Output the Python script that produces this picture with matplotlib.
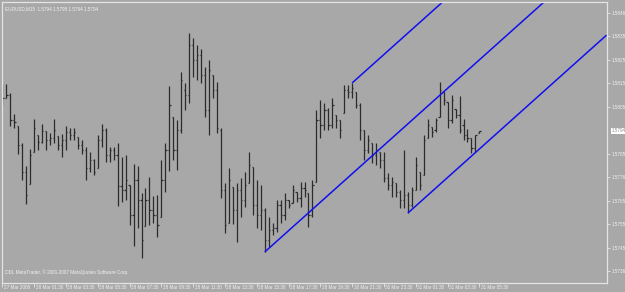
import matplotlib
matplotlib.use("Agg")
import matplotlib.pyplot as plt
import matplotlib.transforms as mtransforms
import numpy as np

# ---------------- data (EURUSD M15 bars) ----------------
opens = [1.58132, 1.58098, 1.58110, 1.58004, 1.57978, 1.57897, 1.57782, 1.57731, 1.57867, 1.57940,
         1.57910, 1.57957, 1.57919, 1.57927, 1.57936, 1.57897, 1.57919, 1.57953, 1.57940, 1.57931,
         1.57897, 1.57876, 1.57799, 1.57833, 1.57799, 1.57919, 1.57961, 1.57855, 1.57876, 1.57855,
         1.57722, 1.57705, 1.57727, 1.57599, 1.57748, 1.57663, 1.57552, 1.57663, 1.57620, 1.57599,
         1.57590, 1.57748, 1.57876, 1.58017, 1.57876, 1.57961, 1.58132, 1.58110, 1.58324, 1.58260,
         1.58281, 1.58196, 1.58046, 1.58196, 1.58132, 1.57961, 1.57705, 1.57565, 1.57718, 1.57620,
         1.57705, 1.57663, 1.57735, 1.57803, 1.57641, 1.57599, 1.57620, 1.57492, 1.57535, 1.57543,
         1.57641, 1.57599, 1.57663, 1.57650, 1.57697, 1.57671, 1.57714, 1.57693, 1.57599, 1.57739,
         1.58004, 1.57982, 1.58046, 1.57982, 1.58025, 1.58004, 1.58034, 1.58132, 1.58123, 1.58123,
         1.58068, 1.57961, 1.57876, 1.57906, 1.57855, 1.57867, 1.57833, 1.57757, 1.57727, 1.57735,
         1.57697, 1.57663, 1.57684, 1.57641, 1.57705, 1.57782, 1.57769, 1.57927, 1.57974, 1.57961,
         1.58017, 1.58123, 1.58081, 1.58004, 1.58051, 1.58025, 1.57982, 1.57940, 1.57927, 1.57884,
         1.57948]
highs = [1.58157, 1.58157, 1.58119, 1.58029, 1.57978, 1.57906, 1.57808, 1.57880, 1.58008, 1.57940,
         1.57987, 1.57957, 1.57948, 1.58008, 1.57936, 1.57944, 1.57978, 1.57970, 1.57970, 1.57931,
         1.57919, 1.57889, 1.57867, 1.57838, 1.57940, 1.57987, 1.57970, 1.57889, 1.57889, 1.57906,
         1.57846, 1.57855, 1.57727, 1.57816, 1.57808, 1.57693, 1.57714, 1.57761, 1.57680, 1.57684,
         1.57833, 1.57906, 1.58149, 1.58017, 1.58004, 1.58208, 1.58162, 1.58375, 1.58353, 1.58324,
         1.58307, 1.58230, 1.58260, 1.58196, 1.58166, 1.57970, 1.57735, 1.57799, 1.57718, 1.57735,
         1.57757, 1.57782, 1.57867, 1.57803, 1.57748, 1.57727, 1.57629, 1.57590, 1.57565, 1.57663,
         1.57663, 1.57693, 1.57663, 1.57727, 1.57697, 1.57739, 1.57739, 1.57693, 1.57748, 1.58046,
         1.58089, 1.58076, 1.58055, 1.58098, 1.58025, 1.58004, 1.58153, 1.58153, 1.58162, 1.58123,
         1.58076, 1.57961, 1.57940, 1.57906, 1.57906, 1.57867, 1.57867, 1.57778, 1.57761, 1.57735,
         1.57705, 1.57876, 1.57697, 1.57718, 1.57846, 1.57782, 1.57940, 1.58008, 1.57974, 1.58012,
         1.58166, 1.58123, 1.58081, 1.58110, 1.58051, 1.58106, 1.58008, 1.57965, 1.57927, 1.57940,
         1.57957]
lows = [1.58068, 1.58098, 1.57978, 1.57970, 1.57859, 1.57748, 1.57646, 1.57731, 1.57867, 1.57876,
        1.57906, 1.57876, 1.57897, 1.57906, 1.57876, 1.57846, 1.57876, 1.57919, 1.57919, 1.57880,
        1.57859, 1.57748, 1.57782, 1.57769, 1.57799, 1.57889, 1.57825, 1.57825, 1.57833, 1.57637,
        1.57654, 1.57663, 1.57556, 1.57467, 1.57543, 1.57415, 1.57552, 1.57556, 1.57565, 1.57505,
        1.57590, 1.57697, 1.57786, 1.57833, 1.57791, 1.57948, 1.58046, 1.58076, 1.58187, 1.58174,
        1.58162, 1.58017, 1.57940, 1.58098, 1.57948, 1.57671, 1.57522, 1.57565, 1.57560, 1.57484,
        1.57590, 1.57633, 1.57735, 1.57599, 1.57543, 1.57535, 1.57441, 1.57462, 1.57514, 1.57526,
        1.57565, 1.57577, 1.57629, 1.57650, 1.57654, 1.57633, 1.57676, 1.57548, 1.57590, 1.57739,
        1.57927, 1.57961, 1.57961, 1.57970, 1.57970, 1.57927, 1.58034, 1.58098, 1.58098, 1.58055,
        1.57919, 1.57833, 1.57863, 1.57820, 1.57812, 1.57799, 1.57739, 1.57705, 1.57676, 1.57676,
        1.57629, 1.57629, 1.57607, 1.57633, 1.57705, 1.57705, 1.57769, 1.57927, 1.57931, 1.57953,
        1.58017, 1.58068, 1.57970, 1.57991, 1.58012, 1.57948, 1.57919, 1.57910, 1.57863, 1.57867,
        1.57948]
closes = [1.58098, 1.58110, 1.58004, 1.57995, 1.57897, 1.57782, 1.57684, 1.57855, 1.57970, 1.57910,
          1.57957, 1.57919, 1.57927, 1.57961, 1.57897, 1.57919, 1.57953, 1.57940, 1.57953, 1.57897,
          1.57876, 1.57799, 1.57833, 1.57782, 1.57919, 1.57961, 1.57855, 1.57876, 1.57855, 1.57722,
          1.57705, 1.57748, 1.57599, 1.57748, 1.57663, 1.57492, 1.57663, 1.57620, 1.57599, 1.57556,
          1.57748, 1.57876, 1.58068, 1.57876, 1.57961, 1.58174, 1.58110, 1.58324, 1.58260, 1.58281,
          1.58196, 1.58046, 1.58217, 1.58132, 1.57970, 1.57705, 1.57556, 1.57748, 1.57620, 1.57705,
          1.57663, 1.57727, 1.57812, 1.57641, 1.57599, 1.57620, 1.57492, 1.57535, 1.57543, 1.57641,
          1.57599, 1.57663, 1.57641, 1.57705, 1.57671, 1.57714, 1.57705, 1.57599, 1.57727, 1.58004,
          1.57982, 1.58046, 1.57982, 1.58068, 1.58004, 1.57961, 1.58132, 1.58123, 1.58140, 1.58068,
          1.57961, 1.57876, 1.57919, 1.57855, 1.57876, 1.57833, 1.57757, 1.57727, 1.57739, 1.57697,
          1.57663, 1.57684, 1.57641, 1.57705, 1.57812, 1.57727, 1.57919, 1.57982, 1.57953, 1.58004,
          1.58132, 1.58089, 1.58004, 1.58089, 1.58025, 1.57961, 1.57940, 1.57927, 1.57884, 1.57940,
          1.57957]

# equidistant channel (bar index, price) anchors
mid_line_x = [66, 152]
mid_line_y = [1.57441, 1.58746]
upper_line_x = [88, 152]
upper_line_y = [1.58162, 1.59133]
lower_line_x = [102, 152]
lower_line_y = [1.57607, 1.58366]

# axis labels
xtick_bars = [0, 8, 16, 24, 32, 40, 48, 56, 64, 72, 80, 88, 96, 104, 112, 120]
xtick_labels = ["27 Mar 2008", "28 Mar 01:30", "28 Mar 03:30", "28 Mar 05:30", "28 Mar 07:30",
                "28 Mar 09:30", "28 Mar 11:30", "28 Mar 13:30", "28 Mar 15:30", "28 Mar 17:30",
                "28 Mar 19:30", "30 Mar 21:30", "30 Mar 23:30", "31 Mar 01:30", "31 Mar 03:30",
                "31 Mar 05:30"]
ytick_prices = [1.5846, 1.5836, 1.5826, 1.5816, 1.5806, 1.5786, 1.5776, 1.5766, 1.5756, 1.5746, 1.5736]
ytick_labels = ["1.5846", "1.5835", "1.5825", "1.5815", "1.5805", "1.5785", "1.5776", "1.5765",
                "1.5755", "1.5745", "1.5736"]
current_price = 1.57957
current_label = "1.5794"
title_text = "EURUSD,M15  1.5794 1.5795 1.5794 1.5794"
footer_text = "ODL MetaTrader, \u00a9 2001-2007 MetaQuotes Software Corp."

# ---------------- drawing ----------------
BG = "#A8A8A8"
FRAME = "#E4E4E4"
TXT = "#F2F2F2"
BAR = "#2B2B2B"
FONT = ["Liberation Sans", "DejaVu Sans"]
FS = 3.3
W, H = 625, 292

plt.rcParams["font.family"] = FONT

fig = plt.figure(figsize=(W / 100, H / 100), dpi=100, facecolor=BG)
ax = fig.add_axes([2 / W, 9 / H, 605 / W, 281 / H])
ax.set_facecolor(BG)
ax.set_xlim(-0.1, 152.1)
ax.set_ylim(1.573088, 1.585070)
for s in ax.spines.values():
    s.set_color(FRAME)
    s.set_linewidth(0.9)

idx = np.arange(len(opens))
ax.vlines(idx, lows, highs, colors=BAR, linewidth=0.9)
ax.hlines(opens, idx - 0.3, idx, colors=BAR, linewidth=0.9)
ax.hlines(closes, idx, idx + 0.3, colors=BAR, linewidth=0.9)

for lx, ly in [(mid_line_x, mid_line_y), (upper_line_x, upper_line_y), (lower_line_x, lower_line_y)]:
    ax.plot(lx, ly, color="#1010F0", linewidth=1.1, solid_capstyle="butt")

# y axis on the right
ax.yaxis.tick_right()
ax.set_yticks(ytick_prices)
ax.set_yticklabels(ytick_labels)
ax.tick_params(axis="y", which="both", direction="out", length=2, width=0.6, color=FRAME,
               labelsize=FS, labelcolor=TXT, pad=1.2)

# x axis ticks (labels drawn manually, left aligned)
ax.set_xticks(xtick_bars)
ax.set_xticklabels([])
ax.tick_params(axis="x", which="both", direction="out", length=3, width=0.6, color=FRAME)
trans = mtransforms.blended_transform_factory(ax.transData, ax.transAxes)
for b, lab in zip(xtick_bars, xtick_labels):
    ax.text(b + 0.35, -0.006, lab, transform=trans, ha="left", va="top", fontsize=FS,
            color=TXT, clip_on=False)

# current price box
ax.text(1.007, current_price, current_label,
        transform=mtransforms.blended_transform_factory(ax.transAxes, ax.transData),
        ha="left", va="center", fontsize=FS, color="#8C8C8C", clip_on=False,
        bbox=dict(boxstyle="square,pad=0.15", facecolor="white", edgecolor="none"))

ax.text(0.005, 0.985, title_text, transform=ax.transAxes, ha="left", va="top", fontsize=FS, color=TXT)
ax.text(0.005, 0.028, footer_text, transform=ax.transAxes, ha="left", va="bottom", fontsize=FS, color=TXT)

fig.savefig("out.png", dpi=100, facecolor=BG)
